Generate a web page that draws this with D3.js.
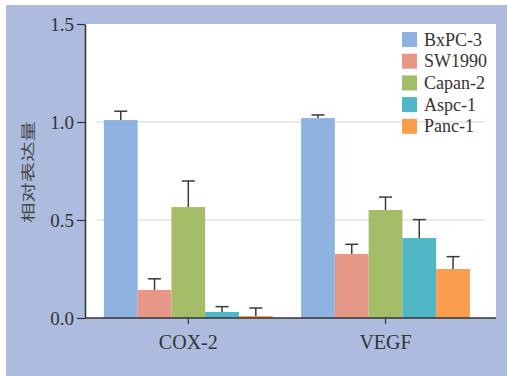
<!DOCTYPE html>
<html>
<head>
<meta charset="utf-8">
<script src="https://cdn.jsdelivr.net/npm/d3@7"></script>
<style>
  body { margin: 0; background: #fff; }
  svg { display: block; }
</style>
</head>
<body>
<svg width="507" height="376"></svg>
<script>
const genes = ['COX-2', 'VEGF'];
const cellLines = ['BxPC-3', 'SW1990', 'Capan-2', 'Aspc-1', 'Panc-1'];
const colors = ['#8eb3e1', '#e69786', '#a3bd69', '#50b6c5', '#f99e4c'];
// mean per cell line, one row per gene
const means = [
  [1.01, 0.143, 0.566, 0.031, 0.010],
  [1.02, 0.327, 0.551, 0.408, 0.250]
];
const errors = [
  [0.045, 0.057, 0.133, 0.027, 0.041],
  [0.016, 0.049, 0.066, 0.094, 0.063]
];
const yTicks = [0, 0.5, 1.0, 1.5];

const serif = '"Liberation Serif", "Times New Roman", Times, "DejaVu Serif", serif';

const svg = d3.select('svg');
const plotLeft = 85, plotRight = 496, plotTop = 24, plotBottom = 318;

// blue panel
svg.append('rect')
  .attr('x', 6).attr('y', 5)
  .attr('width', 501).attr('height', 371)
  .attr('fill', '#adbbdf');

// plot area
svg.append('rect')
  .attr('x', plotLeft).attr('y', plotTop)
  .attr('width', plotRight - plotLeft).attr('height', plotBottom - plotTop)
  .attr('fill', '#fff');

const yScale = d3.scaleLinear().domain([0, 1.5]).range([plotBottom, plotTop]);

const x0 = d3.scaleBand()
  .domain(genes)
  .range([plotLeft, plotRight])
  .paddingInner(0.144)
  .paddingOuter(0.114)
  .align(0.42);

const x1 = d3.scaleBand()
  .domain(cellLines)
  .range([0, x0.bandwidth()]);

// grid lines
svg.append('g')
  .selectAll('line')
  .data(yTicks.filter(d => d > 0 && d < 1.5))
  .enter().append('line')
  .attr('x1', 97).attr('x2', 485)
  .attr('y1', d => yScale(d)).attr('y2', d => yScale(d))
  .attr('stroke', '#e2e2e2')
  .attr('stroke-width', 1.5);

const rows = [];
genes.forEach((g, gi) => {
  cellLines.forEach((c, ci) => {
    rows.push({ gene: g, line: c, value: means[gi][ci], err: errors[gi][ci], color: colors[ci] });
  });
});

// error bars, up only
const errG = svg.append('g')
  .attr('stroke', '#3a3a3a')
  .attr('stroke-width', 1.5);

errG.selectAll('.stem')
  .data(rows)
  .enter().append('line')
  .attr('x1', d => x0(d.gene) + x1(d.line) + x1.bandwidth() / 2)
  .attr('x2', d => x0(d.gene) + x1(d.line) + x1.bandwidth() / 2)
  .attr('y1', d => yScale(d.value))
  .attr('y2', d => yScale(d.value + d.err));

errG.selectAll('.cap')
  .data(rows)
  .enter().append('line')
  .attr('x1', d => x0(d.gene) + x1(d.line) + x1.bandwidth() / 2 - 6.5)
  .attr('x2', d => x0(d.gene) + x1(d.line) + x1.bandwidth() / 2 + 6.5)
  .attr('y1', d => yScale(d.value + d.err))
  .attr('y2', d => yScale(d.value + d.err));

svg.append('g')
  .selectAll('rect')
  .data(rows)
  .enter().append('rect')
  .attr('x', d => x0(d.gene) + x1(d.line))
  .attr('y', d => yScale(d.value))
  .attr('width', x1.bandwidth())
  .attr('height', d => plotBottom - yScale(d.value))
  .attr('fill', d => d.color);

// y axis
const yAxis = svg.append('g')
  .attr('transform', `translate(${plotLeft},0)`)
  .call(d3.axisLeft(yScale)
    .tickValues(yTicks)
    .tickFormat(d3.format('.1f'))
    .tickSize(8)
    .tickSizeOuter(0)
    .tickPadding(3));
yAxis.attr('font-family', serif);
yAxis.selectAll('text').attr('font-size', 19).attr('fill', '#333');
yAxis.select('.domain').attr('stroke', '#333').attr('stroke-width', 1.5);
yAxis.selectAll('.tick line').attr('stroke', '#333').attr('stroke-width', 1.2);

// x axis
const xAxis = svg.append('g')
  .attr('transform', `translate(0,${plotBottom})`)
  .call(d3.axisBottom(x0).tickSize(6).tickSizeOuter(0).tickPadding(11));
xAxis.attr('font-family', serif);
xAxis.select('.domain').attr('d', `M${plotLeft},0H${plotRight}`)
  .attr('stroke', '#333').attr('stroke-width', 1.5);
xAxis.selectAll('.tick line').attr('stroke', '#333').attr('stroke-width', 1.2);
xAxis.selectAll('text').attr('font-size', 20).attr('fill', '#333');

// y axis title
svg.append('text')
  .attr('transform', 'translate(33,172) rotate(-90) scale(1.45,1)')
  .attr('text-anchor', 'middle')
  .attr('font-family', '"Noto Sans CJK SC", sans-serif')
  .attr('font-size', 14)
  .attr('fill', '#444')
  .text('相对表达量');

// legend
const legend = svg.append('g')
  .selectAll('g')
  .data(cellLines)
  .enter().append('g')
  .attr('transform', (d, i) => `translate(402,${32 + i * 21.7})`);

legend.append('rect')
  .attr('width', 15).attr('height', 15)
  .attr('fill', (d, i) => colors[i]);

legend.append('text')
  .attr('x', 22).attr('y', 13.5)
  .attr('font-family', serif)
  .attr('font-size', 18)
  .attr('fill', '#333')
  .text(d => d);
</script>
</body>
</html>
